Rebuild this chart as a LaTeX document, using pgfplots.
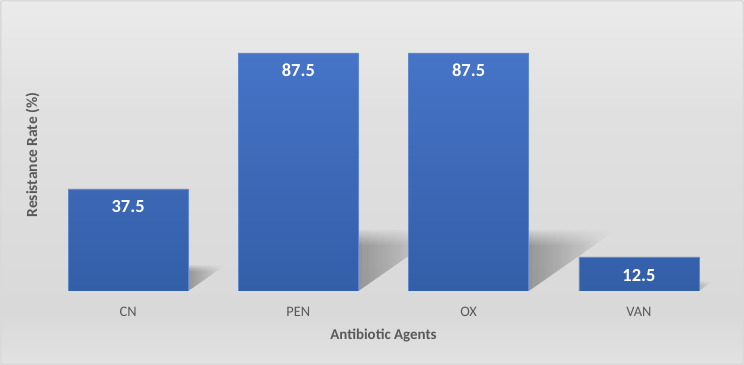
\documentclass[border=0pt]{standalone}
\usepackage{fontspec}
\setmainfont{Carlito}
\usepackage{pgfplots}
\pgfplotsset{compat=1.18}
\usetikzlibrary{fadings}
\definecolor{barTop}{HTML}{4674C7}
\definecolor{barBot}{HTML}{335EA8}
\definecolor{barEdge}{HTML}{5F88CD}
\definecolor{txt}{HTML}{595959}
\pgfdeclareverticalshading{bgshade}{100bp}{color(0bp)=(white); color(7bp)=(white!98!black); color(32bp)=(white!85!black); color(60bp)=(white!88!black); color(85bp)=(white!95!black); color(100bp)=(white)}
\pgfplotsset{shadow/.style={draw=none, fill=black, fill opacity=0.045, path fading=east, forget plot}}
\begin{document}
\begin{tikzpicture}
\useasboundingbox (0,0) rectangle (744bp,365bp);
\shade[shading=bgshade] (0,0) rectangle (744bp,365bp);
\draw[line width=1.5bp, color=gray!30, rounded corners=2bp] (0.75bp,0.75bp) rectangle (743.25bp,364.25bp);
\begin{axis}[
  at={(43bp,74bp)}, anchor=south west,
  scale only axis, width=681bp, height=272bp,
  xmin=-0.5, xmax=3.5, ymin=0, ymax=100,
  axis line style={draw=none},
  ytick=\empty,
  xtick={0,1,2,3},
  xticklabels={CN,PEN,OX,VAN},
  major tick length=0pt,
  xticklabel style={anchor=base, yshift=-25bp, font=\fontsize{14.5}{17}\selectfont, text=txt},
  xlabel={Antibiotic Agents},
  ylabel={Resistance Rate (\%)},
  every axis x label/.style={at={(axis description cs:0.5,-0.1765)}, anchor=base, font=\fontsize{15}{18}\selectfont\bfseries, text=txt},
  every axis y label/.style={at={(axis description cs:-0.0088,0.5)}, rotate=90, anchor=base, font=\fontsize{15.5}{18}\selectfont\bfseries, text=txt},
  /pgf/number format/.cd, fixed, precision=1, fixed zerofill, assume math mode=true,
]
% shadows (layered for a soft edge)
\addplot[shadow] coordinates {(0.3524,0) (0.518,7.2) (0.3524,7.2)};
\addplot[shadow] coordinates {(0.3524,0) (0.526,7.6) (0.3524,7.6)};
\addplot[shadow] coordinates {(0.3524,0) (0.534,7.9) (0.3524,7.9)};
\addplot[shadow] coordinates {(0.3524,0) (0.542,8.3) (0.3524,8.3)};
\addplot[shadow] coordinates {(0.3524,0) (0.550,8.6) (0.3524,8.6)};
\addplot[shadow] coordinates {(0.3524,0) (0.558,8.9) (0.3524,8.9)};
\addplot[shadow] coordinates {(0.3524,0) (0.566,9.3) (0.3524,9.3)};
\addplot[shadow] coordinates {(0.3524,0) (0.574,9.6) (0.3524,9.6)};
\addplot[shadow] coordinates {(1.3524,0) (1.740,16.9) (1.3524,16.9)};
\addplot[shadow] coordinates {(1.3524,0) (1.758,17.7) (1.3524,17.7)};
\addplot[shadow] coordinates {(1.3524,0) (1.777,18.5) (1.3524,18.5)};
\addplot[shadow] coordinates {(1.3524,0) (1.795,19.3) (1.3524,19.3)};
\addplot[shadow] coordinates {(1.3524,0) (1.813,20.1) (1.3524,20.1)};
\addplot[shadow] coordinates {(1.3524,0) (1.831,20.9) (1.3524,20.9)};
\addplot[shadow] coordinates {(1.3524,0) (1.850,21.7) (1.3524,21.7)};
\addplot[shadow] coordinates {(1.3524,0) (1.868,22.5) (1.3524,22.5)};
\addplot[shadow] coordinates {(2.3524,0) (2.740,16.9) (2.3524,16.9)};
\addplot[shadow] coordinates {(2.3524,0) (2.758,17.7) (2.3524,17.7)};
\addplot[shadow] coordinates {(2.3524,0) (2.777,18.5) (2.3524,18.5)};
\addplot[shadow] coordinates {(2.3524,0) (2.795,19.3) (2.3524,19.3)};
\addplot[shadow] coordinates {(2.3524,0) (2.813,20.1) (2.3524,20.1)};
\addplot[shadow] coordinates {(2.3524,0) (2.831,20.9) (2.3524,20.9)};
\addplot[shadow] coordinates {(2.3524,0) (2.850,21.7) (2.3524,21.7)};
\addplot[shadow] coordinates {(2.3524,0) (2.868,22.5) (2.3524,22.5)};
\addplot[shadow] coordinates {(3.3524,0) (3.406,2.4) (3.3524,2.4)};
\addplot[shadow] coordinates {(3.3524,0) (3.416,2.8) (3.3524,2.8)};
\addplot[shadow] coordinates {(3.3524,0) (3.426,3.2) (3.3524,3.2)};
\addplot[shadow] coordinates {(3.3524,0) (3.436,3.6) (3.3524,3.6)};
% bars
\addplot[ybar, bar width=120bp, draw=barEdge, line width=0.6bp, top color=barTop, bottom color=barBot,
  nodes near coords,
  every node near coord/.append style={anchor=base, yshift=-24bp, font=\fontsize{18.5}{21}\selectfont\bfseries, text=white}]
  coordinates {(0,37.5) (1,87.5) (2,87.5) (3,12.5)};
\end{axis}
\end{tikzpicture}
\end{document}
